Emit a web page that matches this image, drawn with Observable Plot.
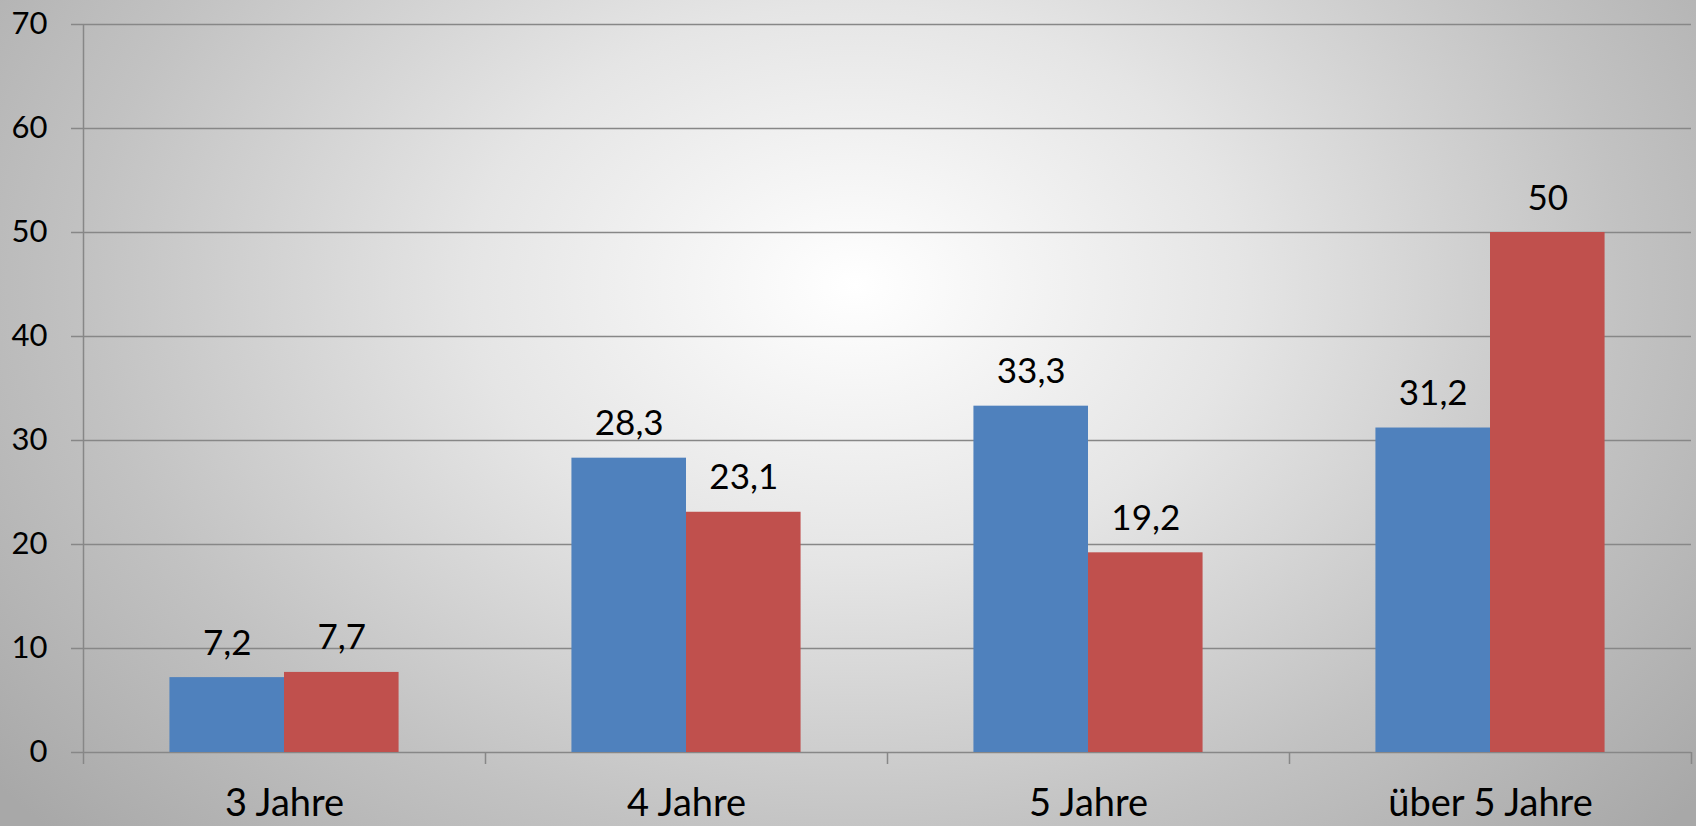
<!DOCTYPE html>
<html>
<head>
<meta charset="utf-8">
<script src="https://cdn.jsdelivr.net/npm/d3@7"></script>
<script src="https://cdn.jsdelivr.net/npm/@observablehq/plot@0.6"></script>
<style>
  html, body { margin: 0; padding: 0; background: #a8a8a8; }
  #chart svg { display: block; }
</style>
</head>
<body>
<div id="chart"></div>
<script>
const categories = ["3 Jahre", "4 Jahre", "5 Jahre", "über 5 Jahre"];
const series = ["Reihe 1", "Reihe 2"];
const valuesBlue = [7.2, 28.3, 33.3, 31.2];
const valuesRed = [7.7, 23.1, 19.2, 50];
const yTicks = [0, 10, 20, 30, 40, 50, 60, 70];
const colors = ["#4f81bd", "#c0504d"];

const W = 1696, H = 826;
const mL = 83, mR = 5, mT = 24, mB = 74;
const step = (W - mL - mR) / categories.length;
const outer = step * 0.215;
const barW = (step - 2 * outer) / 2;

const rows = [];
categories.forEach((c, i) => {
  rows.push({cat: c, series: series[0], value: valuesBlue[i]});
  rows.push({cat: c, series: series[1], value: valuesRed[i]});
});
const blueRows = rows.filter(d => d.series === series[0]);
const redRows = rows.filter(d => d.series === series[1]);
const fmt = v => String(v).replace(".", ",");
const gridColor = "#878787";

const chart = Plot.plot({
  width: W, height: H,
  marginLeft: mL, marginRight: mR, marginTop: mT, marginBottom: mB,
  style: {
    fontFamily: "Lato, 'Open Sans', sans-serif",
    color: "#000",
    background: "radial-gradient(ellipse 1100px 800px at 855px 285px, #ffffff 0%, #e5e5e5 35%, #c2c2c2 70%, #a8a8a8 100%)"
  },
  x: {domain: categories, padding: 0, axis: null, label: null},
  y: {domain: [0, 70], axis: null, label: null},
  color: {domain: series, range: colors},
  marks: [
    Plot.ruleY(yTicks, {stroke: gridColor, strokeWidth: 1.5, insetLeft: -12}),
    Plot.barY(blueRows, {x: "cat", y: "value", fill: "series", insetLeft: outer, insetRight: step - outer - barW}),
    Plot.barY(redRows, {x: "cat", y: "value", fill: "series", insetLeft: outer + barW, insetRight: outer}),
    // y axis line
    Plot.ruleX([categories[0]], {x: d => d, dx: -step / 2, y1: 70, y2: 0, insetBottom: -12, stroke: gridColor, strokeWidth: 1.5}),
    // category boundary ticks
    Plot.ruleX(categories.slice(1), {x: d => d, dx: -step / 2, y1: 0, y2: 0, insetBottom: -12, stroke: gridColor, strokeWidth: 1.5}),
    Plot.ruleX(categories.slice(-1), {x: d => d, dx: step / 2, y1: 0, y2: 0, insetBottom: -12, stroke: gridColor, strokeWidth: 1.5}),
    Plot.text(blueRows, {x: "cat", y: "value", text: d => fmt(d.value), dx: -barW / 2, dy: -23, lineAnchor: "bottom", fontSize: 35, fill: "#000"}),
    Plot.text(redRows, {x: "cat", y: "value", text: d => fmt(d.value), dx: barW / 2, dy: -23, lineAnchor: "bottom", fontSize: 35, fill: "#000"}),
    Plot.axisY({ticks: yTicks, tickSize: 0, tickPadding: 36, fontSize: 31, tickFormat: d => String(d), fill: "#000", label: null}),
    Plot.axisX({tickSize: 0, tickPadding: 37, fontSize: 38, fill: "#000", label: null})
  ]
});
document.getElementById("chart").appendChild(chart);
</script>
</body>
</html>
